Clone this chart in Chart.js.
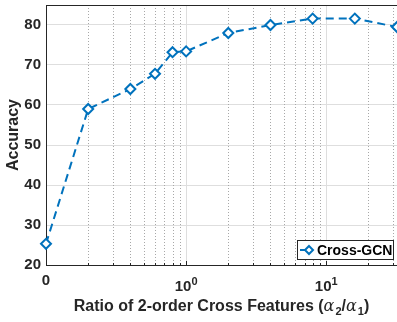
<!DOCTYPE html>
<html>
<head>
<meta charset="utf-8">
<script src="https://cdn.jsdelivr.net/npm/chart.js@4.4.0/dist/chart.umd.min.js"></script>
<style>
  html, body { margin: 0; padding: 0; background: #fff; }
  #wrap { width: 397px; height: 322px; }
</style>
</head>
<body>
<div id="wrap"><canvas id="acc_chart"></canvas></div>
<script>
// values
var ratios = [0.1, 0.2, 0.4, 0.6, 0.8, 1, 2, 4, 8, 16, 32];
var accuracy = [25.3, 59.0, 64.0, 67.8, 73.2, 73.4, 78.0, 80.0, 81.6, 81.6, 79.5];
var seriesName = 'Cross-GCN';
var xMajorTicks = [0.1, 1, 10];
// base / exponent of each major tick label ('0' has no exponent)
var xLabelBase = ['0', '10', '10'];
var xLabelExp = ['', '0', '1'];
var xMinorTicks = [0.2, 0.3, 0.4, 0.5, 0.6, 0.7, 0.8, 0.9, 2, 3, 4, 5, 6, 7, 8, 9, 20, 30];
var yTicks = [20, 30, 40, 50, 60, 70, 80];
// x title pieces: [text, style] ; 'b' bold, 'g' greek italic, 's' subscript
var xTitleParts = [
  ['Ratio of 2-order Cross Features (', 'b'],
  ['\u03b1', 'g'], ['2', 's'], ['/', 'b'],
  ['\u03b1', 'g'], ['1', 's'], [')', 'b']
];

var textColor = '#262626';
var lineColor = '#0072BD';
var font = 'Liberation Sans, Arial, sans-serif';
var partFonts = {
  b: 'bold 16px ' + font,
  g: 'italic 16px "DejaVu Serif", "Liberation Serif", serif',
  s: 'bold 11px ' + font
};

// dotted minor grid, box pieces, power-of-ten labels, x title and legend
var matlabLook = {
  id: 'matlabLook',
  beforeDatasetsDraw: function(chart) {
    var ctx = chart.ctx, a = chart.chartArea, xs = chart.scales.x;
    ctx.save();
    ctx.strokeStyle = '#a8a8a8';
    ctx.lineWidth = 1;
    ctx.setLineDash([1, 2]);
    xMinorTicks.forEach(function(v) {
      var px = Math.round(xs.getPixelForValue(v)) + 0.5;
      ctx.beginPath();
      ctx.moveTo(px, a.top);
      ctx.lineTo(px, a.bottom);
      ctx.stroke();
    });
    ctx.setLineDash([]);
    // inward tick marks on the bottom axis
    ctx.strokeStyle = textColor;
    xMinorTicks.concat(xMajorTicks).forEach(function(v) {
      var px = Math.round(xs.getPixelForValue(v)) + 0.5;
      ctx.beginPath();
      ctx.moveTo(px, a.bottom);
      ctx.lineTo(px, a.bottom - (xMajorTicks.indexOf(v) >= 0 ? 4 : 2));
      ctx.stroke();
    });
    // top border
    ctx.beginPath();
    ctx.moveTo(a.left, a.top + 0.5);
    ctx.lineTo(a.right, a.top + 0.5);
    ctx.stroke();
    ctx.restore();
  },
  afterDraw: function(chart) {
    var ctx = chart.ctx, a = chart.chartArea, xs = chart.scales.x;
    ctx.save();
    // x tick labels with raised exponent
    ctx.fillStyle = textColor;
    ctx.textBaseline = 'alphabetic';
    xMajorTicks.forEach(function(v, i) {
      var px = xs.getPixelForValue(v);
      ctx.font = 'bold 15px ' + font;
      var wb = ctx.measureText(xLabelBase[i]).width;
      ctx.font = 'bold 11px ' + font;
      var we = ctx.measureText(xLabelExp[i]).width;
      var x0 = px - (wb + we) / 2;
      if (!xLabelExp[i]) {
        ctx.font = 'bold 15px ' + font;
        ctx.fillText(xLabelBase[i], x0, a.bottom + 20);
      } else {
        ctx.font = 'bold 15px ' + font;
        ctx.fillText(xLabelBase[i], x0, a.bottom + 26);
        ctx.font = 'bold 11px ' + font;
        ctx.fillText(xLabelExp[i], x0 + wb, a.bottom + 20);
      }
    });
    // x title with greek letters and subscripts
    var total = 0;
    xTitleParts.forEach(function(p) {
      ctx.font = partFonts[p[1]];
      total += ctx.measureText(p[0]).width + (p[1] === 'g' ? 1 : 0);
    });
    var tx = (a.left + a.right) / 2 - total / 2, base = 311;
    xTitleParts.forEach(function(p) {
      ctx.font = partFonts[p[1]];
      ctx.fillText(p[0], tx, p[1] === 's' ? base + 4 : base);
      tx += ctx.measureText(p[0]).width + (p[1] === 'g' ? 1 : 0);
    });
    // legend
    var bx = 297, by = 240, bw = 96, bh = 19;
    ctx.fillStyle = '#fff';
    ctx.fillRect(bx, by, bw, bh);
    ctx.strokeStyle = '#262626';
    ctx.lineWidth = 1;
    ctx.strokeRect(bx + 0.5, by + 0.5, bw, bh);
    var cy = by + bh / 2 + 0.5;
    ctx.strokeStyle = lineColor;
    ctx.lineWidth = 2;
    ctx.beginPath();
    ctx.moveTo(bx + 3, cy);
    ctx.lineTo(bx + 10, cy);
    ctx.stroke();
    var mx = bx + 12;
    ctx.beginPath();
    ctx.moveTo(mx, cy - 4);
    ctx.lineTo(mx + 4, cy);
    ctx.lineTo(mx, cy + 4);
    ctx.lineTo(mx - 4, cy);
    ctx.closePath();
    ctx.fillStyle = '#fff';
    ctx.fill();
    ctx.stroke();
    ctx.fillStyle = '#000';
    ctx.font = 'bold 14px ' + font;
    ctx.textBaseline = 'middle';
    ctx.fillText(seriesName, bx + 20, cy + 1);
    ctx.restore();
  }
};

var ctx = document.getElementById('acc_chart');
var chart = new Chart(ctx, {
  type: 'line',
  data: {
    datasets: [{
      label: seriesName,
      data: ratios.map(function(r, i) { return { x: r, y: accuracy[i] }; }),
      borderColor: lineColor,
      borderWidth: 2,
      borderDash: [8, 5],
      backgroundColor: '#fff',
      pointStyle: 'rectRot',
      pointRadius: 5,
      pointBorderWidth: 2,
      pointBorderColor: lineColor,
      pointBackgroundColor: '#fff',
      tension: 0,
      clip: false
    }]
  },
  plugins: [matlabLook],
  options: {
    responsive: true,
    maintainAspectRatio: false,
    animation: false,
    layout: { autoPadding: false, padding: { top: 5, right: 0, left: 0, bottom: 0 } },
    plugins: {
      legend: { display: false },
      tooltip: { enabled: false }
    },
    scales: {
      x: {
        type: 'logarithmic',
        min: 0.1,
        max: 32,
        afterBuildTicks: function(scale) {
          scale.ticks = xMajorTicks.map(function(v) { return { value: v }; });
        },
        afterFit: function(scale) {
          scale.height = 57;
          scale.paddingLeft = 0;
          scale.paddingRight = 0;
        },
        ticks: { display: false, autoSkip: false, maxRotation: 0 },
        grid: { color: '#dedede', lineWidth: 1, drawTicks: false },
        border: { color: textColor, width: 1 },
        title: { display: false }
      },
      y: {
        min: 20,
        max: 85,
        afterBuildTicks: function(scale) {
          scale.ticks = yTicks.map(function(v) { return { value: v }; });
        },
        afterFit: function(scale) {
          scale.width = 46;
          scale.paddingTop = 0;
          scale.paddingBottom = 0;
        },
        ticks: {
          padding: 5,
          color: textColor,
          font: { family: font, size: 15, weight: 'bold' }
        },
        grid: { color: '#dedede', lineWidth: 1, drawTicks: false },
        border: { color: textColor, width: 1 },
        title: {
          display: true,
          text: 'Accuracy',
          color: textColor,
          font: { family: font, size: 16, weight: 'bold' },
          padding: { top: 4, bottom: 0 }
        }
      }
    }
  }
});
</script>
</body>
</html>
